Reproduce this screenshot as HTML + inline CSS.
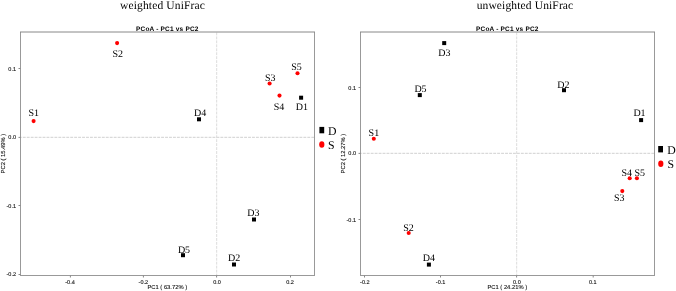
<!DOCTYPE html>
<html><head><meta charset="utf-8"><style>
html,body{margin:0;padding:0;background:#fff;width:676px;height:291px;overflow:hidden;}
svg{display:block;will-change:transform;text-rendering:geometricPrecision;}
</style></head><body>
<svg width="676" height="291" viewBox="0 0 676 291">

<line x1="20.5" y1="137.3" x2="314.5" y2="137.3" stroke="#d0d0d0" stroke-width="1" stroke-dasharray="2.9,1.052" stroke-dashoffset="1.65"/>
<line x1="216.7" y1="32.5" x2="216.7" y2="275.5" stroke="#dcdcdc" stroke-width="1" stroke-dasharray="2.9,1.052"/>
<path d="M20.5 275.5V32.0M314.5 275.5V32.0M20.0 275.5H315.0" fill="none" stroke="#999" stroke-width="1"/>
<line x1="20.0" y1="32" x2="315.0" y2="32" stroke="#888" stroke-width="1"/>
<line x1="70.4" y1="275.5" x2="70.4" y2="277.5" stroke="#888" stroke-width="1"/>
<text x="70.0" y="284" font-size="5.5" font-family='"Liberation Sans", sans-serif' text-anchor="middle" font-weight="normal" fill="#111" stroke="#111" stroke-width="0.12">-0.4</text>
<line x1="143.4" y1="275.5" x2="143.4" y2="277.5" stroke="#888" stroke-width="1"/>
<text x="143.3" y="284" font-size="5.5" font-family='"Liberation Sans", sans-serif' text-anchor="middle" font-weight="normal" fill="#111" stroke="#111" stroke-width="0.12">-0.2</text>
<line x1="216.6" y1="275.5" x2="216.6" y2="277.5" stroke="#888" stroke-width="1"/>
<text x="217.0" y="284" font-size="5.5" font-family='"Liberation Sans", sans-serif' text-anchor="middle" font-weight="normal" fill="#111" stroke="#111" stroke-width="0.12">0.0</text>
<line x1="290.5" y1="275.5" x2="290.5" y2="277.5" stroke="#888" stroke-width="1"/>
<text x="290.1" y="284" font-size="5.5" font-family='"Liberation Sans", sans-serif' text-anchor="middle" font-weight="normal" fill="#111" stroke="#111" stroke-width="0.12">0.2</text>
<line x1="18.5" y1="68.5" x2="20.5" y2="68.5" stroke="#888" stroke-width="1"/>
<text x="16.0" y="71.0" font-size="5.5" font-family='"Liberation Sans", sans-serif' text-anchor="end" font-weight="normal" fill="#111" stroke="#111" stroke-width="0.12">0.1</text>
<line x1="18.5" y1="137.4" x2="20.5" y2="137.4" stroke="#888" stroke-width="1"/>
<text x="16.0" y="139.2" font-size="5.5" font-family='"Liberation Sans", sans-serif' text-anchor="end" font-weight="normal" fill="#111" stroke="#111" stroke-width="0.12">0.0</text>
<line x1="18.5" y1="205.5" x2="20.5" y2="205.5" stroke="#888" stroke-width="1"/>
<text x="16.0" y="208.2" font-size="5.5" font-family='"Liberation Sans", sans-serif' text-anchor="end" font-weight="normal" fill="#111" stroke="#111" stroke-width="0.12">-0.1</text>
<line x1="18.5" y1="274.5" x2="20.5" y2="274.5" stroke="#888" stroke-width="1"/>
<text x="16.0" y="276.40000000000003" font-size="5.5" font-family='"Liberation Sans", sans-serif' text-anchor="end" font-weight="normal" fill="#111" stroke="#111" stroke-width="0.12">-0.2</text>
<text x="167.3" y="288.8" font-size="5.8" font-family='"Liberation Sans", sans-serif' text-anchor="middle" font-weight="normal" fill="#111" stroke="#111" stroke-width="0.12">PC1 ( 63.72% )</text>
<text x="4.9" y="153.6" font-size="5.8" font-family='"Liberation Sans", sans-serif' text-anchor="middle" font-weight="normal" fill="#111" stroke="#111" stroke-width="0.12" transform="rotate(-90 4.9 153.6)">PC2 ( 15.49% )</text>
<text x="167.3" y="31" font-size="6.5" font-family='"Liberation Sans", sans-serif' text-anchor="middle" font-weight="bold" fill="#000" letter-spacing="0.19">PCoA - PC1 vs PC2</text>
<text x="162.5" y="8.8" font-size="11.5" font-family='"Liberation Serif", serif' text-anchor="middle" font-weight="normal" fill="#000" letter-spacing="0.14">weighted UniFrac</text>
<circle cx="33.6" cy="121.1" r="2.05" fill="#f00"/>
<text x="33.8" y="115.6" font-size="10" font-family='"Liberation Serif", serif' text-anchor="middle" font-weight="normal" fill="#000" >S1</text>
<circle cx="117.1" cy="43.1" r="2.05" fill="#f00"/>
<text x="117.8" y="57.0" font-size="10" font-family='"Liberation Serif", serif' text-anchor="middle" font-weight="normal" fill="#000" >S2</text>
<circle cx="269.6" cy="83.5" r="2.05" fill="#f00"/>
<text x="270.2" y="80.7" font-size="10" font-family='"Liberation Serif", serif' text-anchor="middle" font-weight="normal" fill="#000" >S3</text>
<circle cx="297.5" cy="73.2" r="2.05" fill="#f00"/>
<text x="296.5" y="70.2" font-size="10" font-family='"Liberation Serif", serif' text-anchor="middle" font-weight="normal" fill="#000" >S5</text>
<circle cx="279.5" cy="95.6" r="2.05" fill="#f00"/>
<text x="279.0" y="110.2" font-size="10" font-family='"Liberation Serif", serif' text-anchor="middle" font-weight="normal" fill="#000" >S4</text>
<rect x="299.1" y="95.7" width="4.0" height="4.0" fill="#000"/>
<text x="301.9" y="110.2" font-size="10" font-family='"Liberation Serif", serif' text-anchor="middle" font-weight="normal" fill="#000" >D1</text>
<rect x="197.0" y="117.3" width="4.0" height="4.0" fill="#000"/>
<text x="200.2" y="116.0" font-size="10" font-family='"Liberation Serif", serif' text-anchor="middle" font-weight="normal" fill="#000" >D4</text>
<rect x="252.0" y="217.5" width="4.0" height="4.0" fill="#000"/>
<text x="253.4" y="215.6" font-size="10" font-family='"Liberation Serif", serif' text-anchor="middle" font-weight="normal" fill="#000" >D3</text>
<rect x="181.0" y="253.2" width="4.0" height="4.0" fill="#000"/>
<text x="184.0" y="253.2" font-size="10" font-family='"Liberation Serif", serif' text-anchor="middle" font-weight="normal" fill="#000" >D5</text>
<rect x="232.0" y="262.5" width="4.0" height="4.0" fill="#000"/>
<text x="234.2" y="260.7" font-size="10" font-family='"Liberation Serif", serif' text-anchor="middle" font-weight="normal" fill="#000" >D2</text>
<rect x="319.4" y="126.9" width="4.8" height="6.4" fill="#000"/>
<ellipse cx="321.8" cy="144.5" rx="2.6" ry="3.3" fill="#f00"/>
<text x="327.9" y="134.7" font-size="11.8" font-family='"Liberation Serif", serif' text-anchor="start" font-weight="normal" fill="#000" >D</text>
<text x="327.9" y="149.2" font-size="11.8" font-family='"Liberation Serif", serif' text-anchor="start" font-weight="normal" fill="#000" >S</text>
<line x1="360.5" y1="153.3" x2="654.5" y2="153.3" stroke="#d0d0d0" stroke-width="1" stroke-dasharray="2.9,1.052" stroke-dashoffset="1.65"/>
<line x1="516.7" y1="32.5" x2="516.7" y2="275.5" stroke="#dcdcdc" stroke-width="1" stroke-dasharray="2.9,1.052"/>
<path d="M360.5 275.5V32.0M654.5 275.5V32.0M360.0 275.5H655.0" fill="none" stroke="#999" stroke-width="1"/>
<line x1="360.0" y1="32" x2="655.0" y2="32" stroke="#888" stroke-width="1"/>
<line x1="364.5" y1="275.5" x2="364.5" y2="277.5" stroke="#888" stroke-width="1"/>
<text x="364.8" y="284" font-size="5.5" font-family='"Liberation Sans", sans-serif' text-anchor="middle" font-weight="normal" fill="#111" stroke="#111" stroke-width="0.12">-0.2</text>
<line x1="440.5" y1="275.5" x2="440.5" y2="277.5" stroke="#888" stroke-width="1"/>
<text x="440.6" y="284" font-size="5.5" font-family='"Liberation Sans", sans-serif' text-anchor="middle" font-weight="normal" fill="#111" stroke="#111" stroke-width="0.12">-0.1</text>
<line x1="516.6" y1="275.5" x2="516.6" y2="277.5" stroke="#888" stroke-width="1"/>
<text x="516.9" y="284" font-size="5.5" font-family='"Liberation Sans", sans-serif' text-anchor="middle" font-weight="normal" fill="#111" stroke="#111" stroke-width="0.12">0.0</text>
<line x1="593.2" y1="275.5" x2="593.2" y2="277.5" stroke="#888" stroke-width="1"/>
<text x="592.8" y="284" font-size="5.5" font-family='"Liberation Sans", sans-serif' text-anchor="middle" font-weight="normal" fill="#111" stroke="#111" stroke-width="0.12">0.1</text>
<line x1="358.5" y1="87.5" x2="360.5" y2="87.5" stroke="#888" stroke-width="1"/>
<text x="356.0" y="90.1" font-size="5.5" font-family='"Liberation Sans", sans-serif' text-anchor="end" font-weight="normal" fill="#111" stroke="#111" stroke-width="0.12">0.1</text>
<line x1="358.5" y1="153.4" x2="360.5" y2="153.4" stroke="#888" stroke-width="1"/>
<text x="356.0" y="155.29999999999998" font-size="5.5" font-family='"Liberation Sans", sans-serif' text-anchor="end" font-weight="normal" fill="#111" stroke="#111" stroke-width="0.12">0.0</text>
<line x1="358.5" y1="219.5" x2="360.5" y2="219.5" stroke="#888" stroke-width="1"/>
<text x="356.0" y="222.0" font-size="5.5" font-family='"Liberation Sans", sans-serif' text-anchor="end" font-weight="normal" fill="#111" stroke="#111" stroke-width="0.12">-0.1</text>
<text x="507.3" y="288.8" font-size="5.8" font-family='"Liberation Sans", sans-serif' text-anchor="middle" font-weight="normal" fill="#111" stroke="#111" stroke-width="0.12">PC1 ( 24.21% )</text>
<text x="344.9" y="153.6" font-size="5.8" font-family='"Liberation Sans", sans-serif' text-anchor="middle" font-weight="normal" fill="#111" stroke="#111" stroke-width="0.12" transform="rotate(-90 344.9 153.6)">PC2 ( 12.27% )</text>
<text x="507.3" y="31" font-size="6.5" font-family='"Liberation Sans", sans-serif' text-anchor="middle" font-weight="bold" fill="#000" letter-spacing="0.19">PCoA - PC1 vs PC2</text>
<text x="525" y="8.8" font-size="11.5" font-family='"Liberation Serif", serif' text-anchor="middle" font-weight="normal" fill="#000" letter-spacing="0.14">unweighted UniFrac</text>
<rect x="442.2" y="41.1" width="4.0" height="4.0" fill="#000"/>
<text x="444.3" y="56.2" font-size="10" font-family='"Liberation Serif", serif' text-anchor="middle" font-weight="normal" fill="#000" >D3</text>
<rect x="417.8" y="93.1" width="4.0" height="4.0" fill="#000"/>
<text x="420.5" y="91.6" font-size="10" font-family='"Liberation Serif", serif' text-anchor="middle" font-weight="normal" fill="#000" >D5</text>
<rect x="562.0" y="88.2" width="4.0" height="4.0" fill="#000"/>
<text x="563.4" y="87.6" font-size="10" font-family='"Liberation Serif", serif' text-anchor="middle" font-weight="normal" fill="#000" >D2</text>
<rect x="639.1" y="118.1" width="4.0" height="4.0" fill="#000"/>
<text x="639.5" y="115.6" font-size="10" font-family='"Liberation Serif", serif' text-anchor="middle" font-weight="normal" fill="#000" >D1</text>
<circle cx="373.8" cy="138.8" r="2.05" fill="#f00"/>
<text x="373.9" y="136.4" font-size="10" font-family='"Liberation Serif", serif' text-anchor="middle" font-weight="normal" fill="#000" >S1</text>
<circle cx="408.7" cy="233.0" r="2.05" fill="#f00"/>
<text x="408.5" y="230.6" font-size="10" font-family='"Liberation Serif", serif' text-anchor="middle" font-weight="normal" fill="#000" >S2</text>
<rect x="426.9" y="262.6" width="4.0" height="4.0" fill="#000"/>
<text x="428.8" y="260.6" font-size="10" font-family='"Liberation Serif", serif' text-anchor="middle" font-weight="normal" fill="#000" >D4</text>
<circle cx="629.7" cy="178.2" r="2.05" fill="#f00"/>
<text x="626.8" y="175.6" font-size="10" font-family='"Liberation Serif", serif' text-anchor="middle" font-weight="normal" fill="#000" >S4</text>
<circle cx="636.9" cy="178.2" r="2.05" fill="#f00"/>
<text x="639.8" y="175.6" font-size="10" font-family='"Liberation Serif", serif' text-anchor="middle" font-weight="normal" fill="#000" >S5</text>
<circle cx="622.3" cy="191.1" r="2.05" fill="#f00"/>
<text x="619.2" y="201.4" font-size="10" font-family='"Liberation Serif", serif' text-anchor="middle" font-weight="normal" fill="#000" >S3</text>
<rect x="658.2" y="146" width="4.8" height="6.4" fill="#000"/>
<ellipse cx="660.8" cy="163.8" rx="2.6" ry="3.3" fill="#f00"/>
<text x="667.2" y="153.6" font-size="11.8" font-family='"Liberation Serif", serif' text-anchor="start" font-weight="normal" fill="#000" >D</text>
<text x="667.4" y="168.3" font-size="11.8" font-family='"Liberation Serif", serif' text-anchor="start" font-weight="normal" fill="#000" >S</text>
</svg>
</body></html>
